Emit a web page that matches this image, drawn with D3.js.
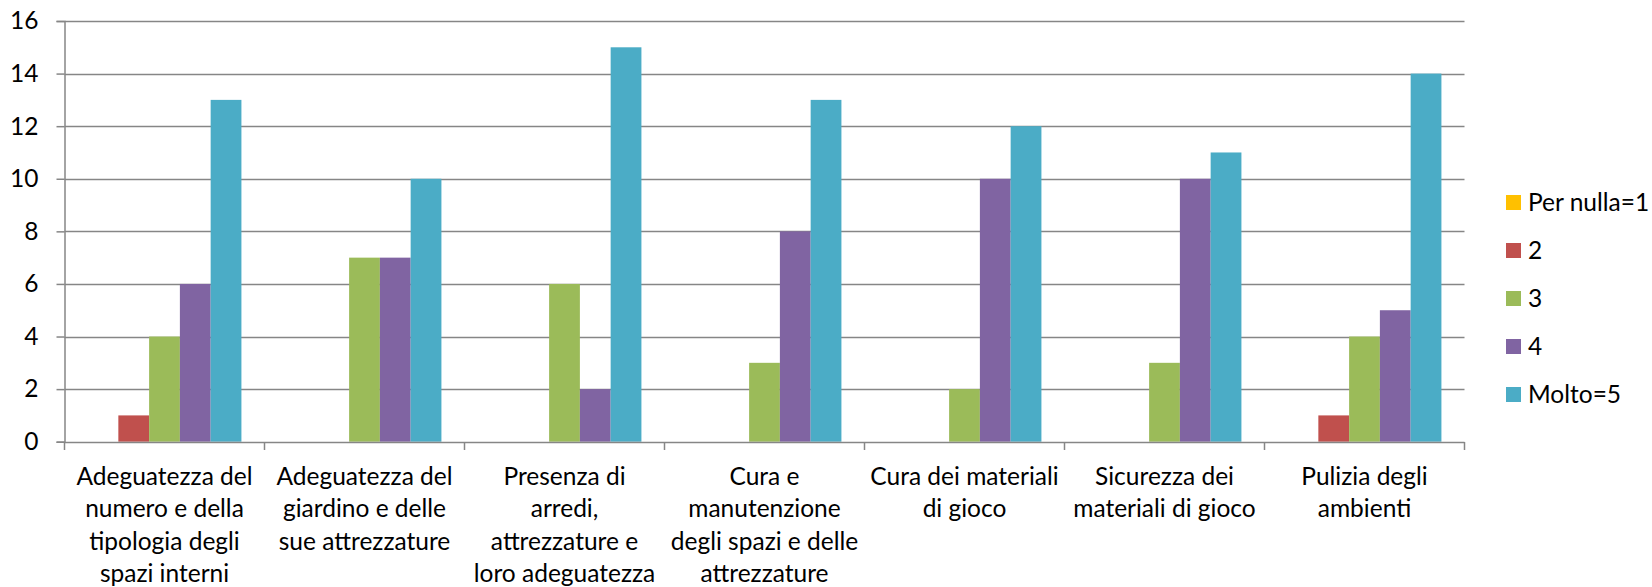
<!DOCTYPE html>
<html>
<head>
<meta charset="utf-8">
<script src="https://cdn.jsdelivr.net/npm/d3@7"></script>
<style>
  html, body { margin: 0; padding: 0; background: #fff; }
  svg { display: block; }
  text { font-family: Lato, "Liberation Sans", sans-serif; fill: #000; }
</style>
</head>
<body>
<svg id="chart" width="1652" height="587"></svg>
<script>
const categories = [
  ["Adeguatezza del", "numero e della", "tipologia degli", "spazi interni"],
  ["Adeguatezza del", "giardino e delle", "sue attrezzature"],
  ["Presenza di", "arredi,", "attrezzature e", "loro adeguatezza"],
  ["Cura e", "manutenzione", "degli spazi e delle", "attrezzature"],
  ["Cura dei materiali", "di gioco"],
  ["Sicurezza dei", "materiali di gioco"],
  ["Pulizia degli", "ambienti"]
];
const seriesNames = ["Per nulla=1", "2", "3", "4", "Molto=5"];
const seriesColors = ["#FFC000", "#C0504D", "#9BBB59", "#8064A2", "#4BACC6"];
const perNulla = [0, 0, 0, 0, 0, 0, 0];
const due      = [1, 0, 0, 0, 0, 0, 1];
const tre      = [4, 7, 6, 3, 2, 3, 4];
const quattro  = [6, 7, 2, 8, 10, 10, 5];
const molto    = [13, 10, 15, 13, 12, 11, 14];
const yTicks = [0, 2, 4, 6, 8, 10, 12, 14, 16];

const series = [perNulla, due, tre, quattro, molto];

const svg = d3.select("#chart");
const plotLeft = 64.5, plotRight = 1464.5, plotTop = 21, plotBottom = 441.7;
const gridColor = "#868686";
const fontSize = 24.5;

const catIdx = d3.range(categories.length);
const x0 = d3.scaleBand().domain(catIdx).range([plotLeft, plotRight]).paddingInner(0).paddingOuter(0);
const nS = series.length;
const gap = 1.5; // Excel gap width 150%
const barW = x0.bandwidth() / (nS + gap);
const x1 = d3.scaleBand().domain(d3.range(nS))
  .range([barW * gap / 2, x0.bandwidth() - barW * gap / 2]).padding(0);
const y = d3.scaleLinear().domain([0, 16]).range([plotBottom, plotTop]);

// gridlines
svg.append("g").selectAll("line").data(yTicks.filter(d => d > 0)).join("line")
  .attr("x1", plotLeft).attr("x2", plotRight)
  .attr("y1", d => Math.round(y(d)) + 0.5).attr("y2", d => Math.round(y(d)) + 0.5)
  .attr("stroke", gridColor).attr("stroke-width", 1.5);

// bars
const g = svg.append("g");
series.forEach((vals, s) => {
  g.append("g").selectAll("rect").data(vals).join("rect")
    .attr("x", (d, i) => x0(i) + x1(s))
    .attr("width", x1.bandwidth())
    .attr("y", d => y(d))
    .attr("height", d => y(0) - y(d))
    .attr("fill", seriesColors[s]);
});

// y axis
const yAxis = d3.axisLeft(y).tickValues(yTicks).tickSize(8).tickPadding(18);
const ya = svg.append("g").attr("transform", `translate(${plotLeft},0)`).call(yAxis);
ya.select(".domain").attr("stroke", gridColor).attr("stroke-width", 1.5);
ya.selectAll(".tick line").attr("stroke", gridColor).attr("stroke-width", 1.5);
ya.selectAll(".tick text").attr("font-size", fontSize).attr("font-family", "Lato").attr("fill", "#000");

// x axis
const boundaries = d3.range(categories.length + 1).map(i => plotLeft + i * x0.bandwidth());
svg.append("line").attr("x1", plotLeft).attr("x2", plotRight)
  .attr("y1", Math.round(plotBottom) + 0.5).attr("y2", Math.round(plotBottom) + 0.5)
  .attr("stroke", gridColor).attr("stroke-width", 1.5);
svg.append("g").selectAll("line").data(boundaries).join("line")
  .attr("x1", d => d).attr("x2", d => d)
  .attr("y1", Math.round(plotBottom)).attr("y2", Math.round(plotBottom) + 8)
  .attr("stroke", gridColor).attr("stroke-width", 1.5);

// x labels
const xl = svg.append("g").selectAll("text").data(categories).join("text")
  .attr("text-anchor", "middle")
  .attr("font-size", fontSize)
  .attr("transform", (d, i) => `translate(${x0(i) + x0.bandwidth() / 2},485)`);
xl.selectAll("tspan").data(d => d).join("tspan")
  .attr("x", 0).attr("y", (d, j) => j * 32.3)
  .text(d => d);

// legend
const leg = svg.append("g").selectAll("g").data(seriesNames).join("g")
  .attr("transform", (d, i) => `translate(1506,${202.5 + i * 48})`);
leg.append("rect").attr("x", 0).attr("y", -7.5).attr("width", 15).attr("height", 15)
  .attr("fill", (d, i) => seriesColors[i]);
leg.append("text").attr("x", 22).attr("y", 0).attr("dy", "0.35em")
  .attr("font-size", fontSize).text(d => d);
</script>
</body>
</html>
